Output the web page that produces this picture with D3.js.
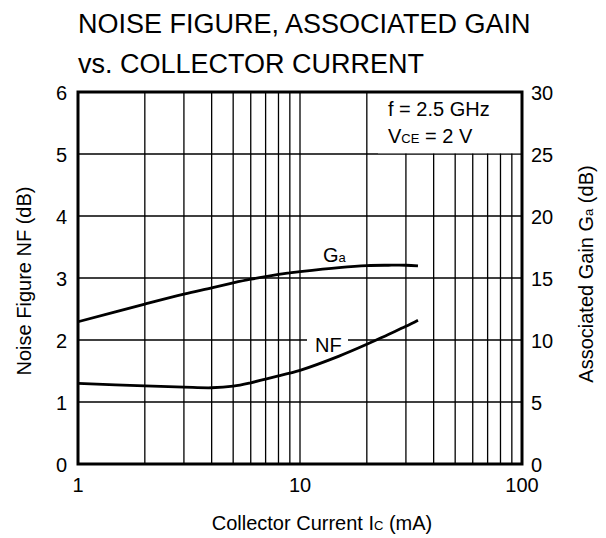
<!DOCTYPE html>
<html><head><meta charset="utf-8">
<script src="https://cdn.jsdelivr.net/npm/d3@7/dist/d3.min.js"></script>
<style>body{margin:0;background:#fff}svg{display:block}text{font-family:"Liberation Sans",Arial,sans-serif;fill:#000}</style>
</head><body><svg id="c" width="606" height="538"></svg>
<script>
const currentMA = [1, 2, 3, 4, 5, 6, 7, 8, 9, 10, 15, 20, 25, 30, 34];
const gainDB   = [11.47, 12.9, 13.7, 14.2, 14.6, 14.9, 15.12, 15.29, 15.41, 15.51, 15.84, 16.0, 16.03, 16.03, 15.97];
const nfDB     = [1.30, 1.26, 1.24, 1.23, 1.255, 1.31, 1.37, 1.42, 1.465, 1.51, 1.74, 1.93, 2.09, 2.22, 2.32];
const xTicks = [1, 10, 100];
const nfTicks = [0, 1, 2, 3, 4, 5, 6];
const gaTicks = [0, 5, 10, 15, 20, 25, 30];
const minorX = [2,3,4,5,6,7,8,9,10,20,30,40,50,60,70,80,90];

const svg = d3.select("#c");
const L = 78, R = 522, T = 92, B = 464;
const x = d3.scaleLog().domain([1, 100]).range([L, R]);
const yL = d3.scaleLinear().domain([0, 6]).range([B, T]);
const yR = d3.scaleLinear().domain([0, 30]).range([B, T]);

// title
svg.append("text").attr("x", 78).attr("y", 33).attr("font-size", 27).text("NOISE FIGURE, ASSOCIATED GAIN");
svg.append("text").attr("x", 78).attr("y", 73).attr("font-size", 27).text("vs. COLLECTOR CURRENT");

// grid
const g = svg.append("g");
g.selectAll(".vx").data(minorX).join("line")
  .attr("x1", d => x(d)).attr("x2", d => x(d)).attr("y1", T).attr("y2", B)
  .attr("stroke", "#000").attr("stroke-width", 1.3);
g.selectAll(".hy").data(nfTicks.slice(1, -1)).join("line")
  .attr("x1", L).attr("x2", R).attr("y1", d => yL(d)).attr("y2", d => yL(d))
  .attr("stroke", "#000").attr("stroke-width", 1.3);

// annotation box (white)
svg.append("rect").attr("x", 378).attr("y", T).attr("width", R - 378).attr("height", yL(5) - T - 0.7).attr("fill", "#fff");
svg.append("text").attr("x", 388).attr("y", 116).attr("font-size", 20).text("f = 2.5 GHz");
const vt = svg.append("text").attr("x", 388).attr("y", 143).attr("font-size", 20);
vt.append("tspan").text("V");
vt.append("tspan").attr("font-size", 13).text("CE");
vt.append("tspan").text(" = 2 V");

// curves
const line = d3.line().curve(d3.curveCatmullRom.alpha(0.5));
svg.append("path").attr("d", line(currentMA.map((c, i) => [x(c), yR(gainDB[i])])))
  .attr("fill", "none").attr("stroke", "#000").attr("stroke-width", 2.8);
svg.append("path").attr("d", line(currentMA.map((c, i) => [x(c), yL(nfDB[i])])))
  .attr("fill", "none").attr("stroke", "#000").attr("stroke-width", 2.8);

// curve labels
const ga = svg.append("text").attr("x", 323).attr("y", 262).attr("font-size", 20);
ga.append("tspan").text("G");
ga.append("tspan").attr("font-size", 13).text("a");
svg.append("rect").attr("x", 307).attr("y", 332).attr("width", 41).attr("height", 18).attr("fill", "#fff");
svg.append("text").attr("x", 315).attr("y", 352).attr("font-size", 20).text("NF");

// frame
svg.append("rect").attr("x", L).attr("y", T).attr("width", R - L).attr("height", B - T)
  .attr("fill", "none").attr("stroke", "#000").attr("stroke-width", 3);

// tick labels
svg.selectAll(".xt").data(xTicks).join("text")
  .attr("x", d => x(d)).attr("y", 492).attr("text-anchor", "middle").attr("font-size", 20).text(d => d);
svg.selectAll(".lt").data(nfTicks).join("text")
  .attr("x", 67).attr("y", d => yL(d) + 8).attr("text-anchor", "end").attr("font-size", 20).text(d => d);
svg.selectAll(".rt").data(gaTicks).join("text")
  .attr("x", 531).attr("y", d => yR(d) + 8).attr("text-anchor", "start").attr("font-size", 20).text(d => d);

// axis titles
const xl = svg.append("text").attr("x", 322).attr("y", 530).attr("text-anchor", "middle").attr("font-size", 20);
xl.append("tspan").text("Collector Current I");
xl.append("tspan").attr("font-size", 13).text("C");
xl.append("tspan").text(" (mA)");

svg.append("text").attr("transform", `translate(31,281) rotate(-90)`).attr("text-anchor", "middle")
  .attr("font-size", 20).text("Noise Figure NF (dB)");
const yr = svg.append("text").attr("transform", `translate(593,274) rotate(-90)`).attr("text-anchor", "middle").attr("font-size", 20);
yr.append("tspan").text("Associated Gain G");
yr.append("tspan").attr("font-size", 13).text("a");
yr.append("tspan").text(" (dB)");
</script></body></html>
